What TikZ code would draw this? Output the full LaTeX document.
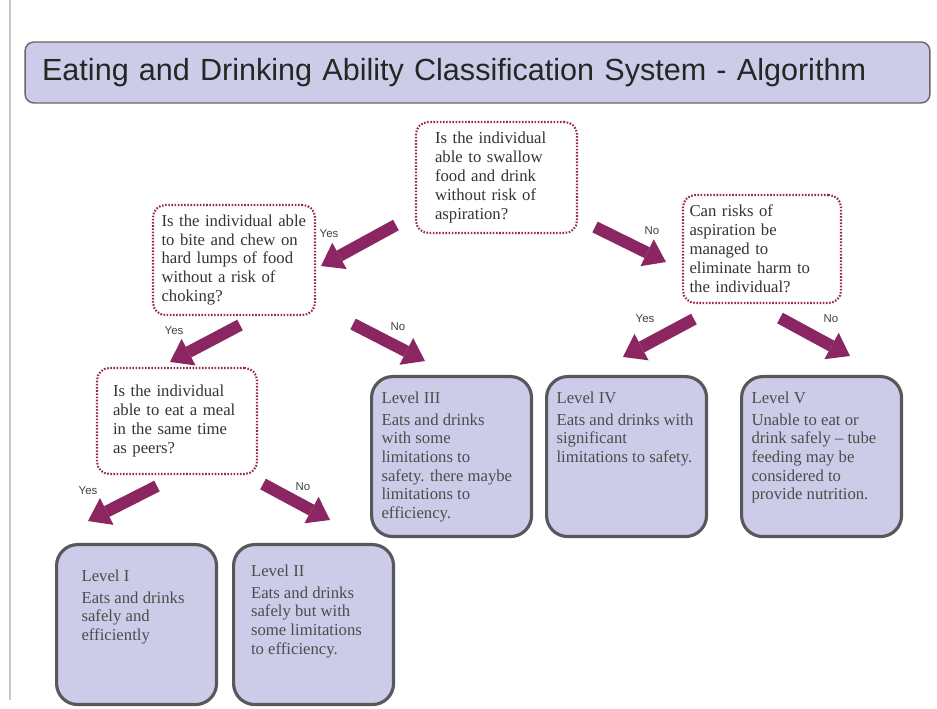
\documentclass[tikz,border=0pt]{standalone}
\usepackage{fontspec}
\setmainfont{Liberation Serif}
\newfontfamily\headfont{Liberation Sans}
\usetikzlibrary{arrows.meta, positioning}
\usepackage{xcolor}

\definecolor{lavender}{RGB}{204,204,232}
\definecolor{plum}{RGB}{139,38,98}
\definecolor{dotred}{RGB}{150,40,75}
\definecolor{boxgray}{RGB}{88,88,92}

% width, height, text
\newcommand{\leveltext}[3]{\parbox[t][#2][t]{#1}{\raggedright #3}}

\begin{document}
\begin{tikzpicture}[x=0.02cm, y=-0.02cm]
                \tikzstyle{titlebox} = [shape=rectangle, fill=lavender, draw=gray!80!black, line width=0.8pt, rounded corners=5pt, inner xsep=0.34cm, text width=17.42cm, minimum height=1.22cm, align=left, font=\headfont\fontsize{17.4}{20}\selectfont, text=black!85];
                \tikzstyle{question} = [shape=rectangle, draw=dotred, line width=1.2pt, dash pattern=on 0.9pt off 0.9pt, rounded corners=7pt, inner sep=0pt, align=left, font=\fontsize{9.5}{10.8}\selectfont, text=black!80];
                \tikzstyle{levelbox} = [shape=rectangle, fill=lavender, draw=boxgray, line width=1.8pt, rounded corners=12pt, anchor=north west, minimum width=3.2cm, minimum height=3.2cm, inner xsep=0.2cm, inner ysep=0.3cm, font=\fontsize{9.5}{10.6}\selectfont, text=black!70];
                \tikzstyle{bigarrow} = [draw, color=plum, line width=0.24cm, -{Triangle[length=0.42cm, width=0.6cm, line width=0pt]}];
                \tikzstyle{answer} = [inner sep=0pt, font=\headfont\fontsize{6.5}{7}\selectfont, text=black!75];

                \useasboundingbox (0,0) rectangle (937,709);
                \draw[gray!45, line width=0.6pt] (10,0) -- (10,700);

                \node[titlebox](Title) at (477.5,72.5) {Eating and Drinking Ability Classification System - Algorithm};

                % questions
                \node[question, minimum width=3.22cm, minimum height=2.22cm, text width=2.46cm](Q1) at (496.5,177.5) {Is the individual\\ able to swallow\\ food and drink\\ without risk of\\ aspiration?};
                \node[question, minimum width=3.24cm, minimum height=2.2cm, text width=2.9cm](Q2) at (234,260) {Is the individual able\\ to bite and chew on\\ hard lumps of food\\ without a risk of\\ choking?};
                \node[question, minimum width=3.16cm, minimum height=2.16cm, text width=2.9cm](Q3) at (762,249) {Can risks of\\ aspiration be\\ managed to\\ eliminate harm to\\ the individual?};
                \node[question, minimum width=3.2cm, minimum height=2.12cm, text width=2.56cm](Q4) at (177,421) {Is the individual\\ able to eat a meal\\ in the same time\\ as peers?};

                % levels
                \node[levelbox](L3) at (370,375) {\leveltext{2.8cm}{2.6cm}{Level III\\[2pt] Eats and drinks\\ with some\\ limitations to\\ safety. there maybe\\ limitations to\\ efficiency.}};
                \node[levelbox](L4) at (545,375) {\leveltext{2.8cm}{2.6cm}{Level IV\\[2pt] Eats and drinks with\\ significant\\ limitations to safety.}};
                \node[levelbox](L5) at (740,375) {\leveltext{2.8cm}{2.6cm}{Level V\\[2pt] Unable to eat or\\ drink safely -- tube\\ feeding may be\\ considered to\\ provide nutrition.}};
                \node[levelbox, inner xsep=0.48cm, inner ysep=0.5cm](L1) at (55,543) {\leveltext{2.2cm}{2.2cm}{Level I\\[2pt] Eats and drinks\\ safely and\\ efficiently}};
                \node[levelbox, inner xsep=0.34cm, inner ysep=0.4cm](L2) at (232,543) {\leveltext{2.5cm}{2.4cm}{Level II\\[2pt] Eats and drinks\\ safely but with\\ some limitations\\ to efficiency.}};

                \path[every edge/.style={bigarrow}]
                    ([shift={(-19,-9)}]Q1.south west) edge ([shift={(5,6)}]Q2.east)
                    ([shift={(17,-7)}]Q1.south east) edge ([shift={(-16,13)}]Q3.west)
                    ([shift={(6,9)}]Q2.south) edge ([shift={(-7,-5)}]Q4.north)
                    ([shift={(37,8)}]Q2.south east) edge ([shift={(55,-14)}]L3.north west)
                    ([shift={(12,15)}]Q3.south west) edge ([shift={(78,-18)}]L4.north west)
                    ([shift={(18,14)}]Q3.south) edge ([shift={(110,-19)}]L5.north west)
                    ([shift={(-20,11)}]Q4.south) edge ([shift={(33,-22)}]L1.north west)
                    ([shift={(5,9)}]Q4.south east) edge ([shift={(98,-23)}]L2.north west)
                ;

                \node[answer](A1) at (329,234) {Yes};
                \node[answer](A2) at (652,231) {No};
                \node[answer](A3) at (174,331) {Yes};
                \node[answer](A4) at (398,327) {No};
                \node[answer](A5) at (645,319) {Yes};
                \node[answer](A6) at (831,319) {No};
                \node[answer](A7) at (88,491) {Yes};
                \node[answer](A8) at (303,487) {No};
            \end{tikzpicture}
\end{document}
